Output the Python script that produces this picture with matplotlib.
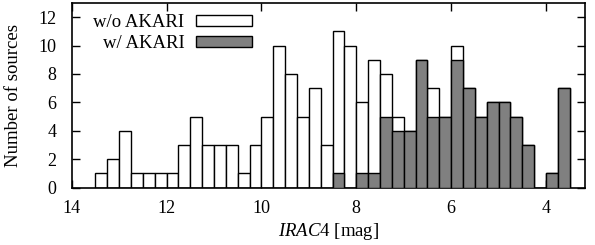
import matplotlib
matplotlib.use("Agg")
import matplotlib.pyplot as plt
import numpy as np
from matplotlib.patches import Patch

plt.rcParams["font.family"] = ["Liberation Serif", "DejaVu Serif"]
plt.rcParams["mathtext.fontset"] = "custom"
plt.rcParams["mathtext.rm"] = "Liberation Serif"
plt.rcParams["mathtext.it"] = "Liberation Serif:italic"

# upper edge of each 0.25 mag bin, bright end last
bin_hi = np.arange(13.5, 3.6, -0.25)
bin_width = 0.25

# all sources (white boxes, drawn behind)
n_all = [1, 2, 4, 1, 1, 1, 1, 3, 5, 3,
         3, 3, 1, 3, 5, 10, 8, 5, 7, 3,
         11, 10, 6, 9, 8, 5, 4, 9, 7, 5,
         10, 7, 5, 6, 6, 5, 3, 0, 1, 7]
# sources with AKARI counterpart (grey boxes)
n_akari = [0, 0, 0, 0, 0, 0, 0, 0, 0, 0,
           0, 0, 0, 0, 0, 0, 0, 0, 0, 0,
           1, 0, 1, 1, 5, 4, 4, 9, 5, 5,
           9, 7, 5, 6, 6, 5, 3, 0, 1, 7]

fig = plt.figure(figsize=(5.95, 2.45), dpi=100)
ax = fig.add_axes([0.1205, 0.234, 0.8625, 0.754])

left = bin_hi - bin_width
ax.bar(left, n_all, width=bin_width, align="edge", color="white",
       edgecolor="black", linewidth=1.0, zorder=2)
ax.bar(left, n_akari, width=bin_width, align="edge", color="#808080",
       edgecolor="black", linewidth=1.0, zorder=3)

ax.set_xlim(14, 3.18)
ax.set_ylim(0, 13)
ax.set_xticks([14, 12, 10, 8, 6, 4])
ax.set_yticks(range(0, 13, 2))
ax.tick_params(direction="in", length=6, width=1.0, top=True, right=True,
               labelsize=13)
ax.tick_params(axis="x", pad=9)
ax.tick_params(axis="y", pad=11)
for s in ax.spines.values():
    s.set_linewidth(1.2)

ax.set_xlabel(r"$\mathit{IRAC4}$ [mag]", fontsize=13.5, labelpad=3)
ax.set_ylabel("Number of sources", fontsize=13.5, labelpad=12)

handles = [Patch(facecolor="white", edgecolor="black", linewidth=1.0),
           Patch(facecolor="#808080", edgecolor="black", linewidth=1.0)]
ax.legend(handles, ["w/o AKARI", "w/ AKARI"], loc="upper left",
          frameon=False, markerfirst=False, handlelength=3.0,
          handleheight=0.5, fontsize=13.5, labelspacing=0.2,
          borderaxespad=0.2, handletextpad=0.6,
          bbox_to_anchor=(0.02, 1.0))

fig.savefig("out.png", dpi=100)
